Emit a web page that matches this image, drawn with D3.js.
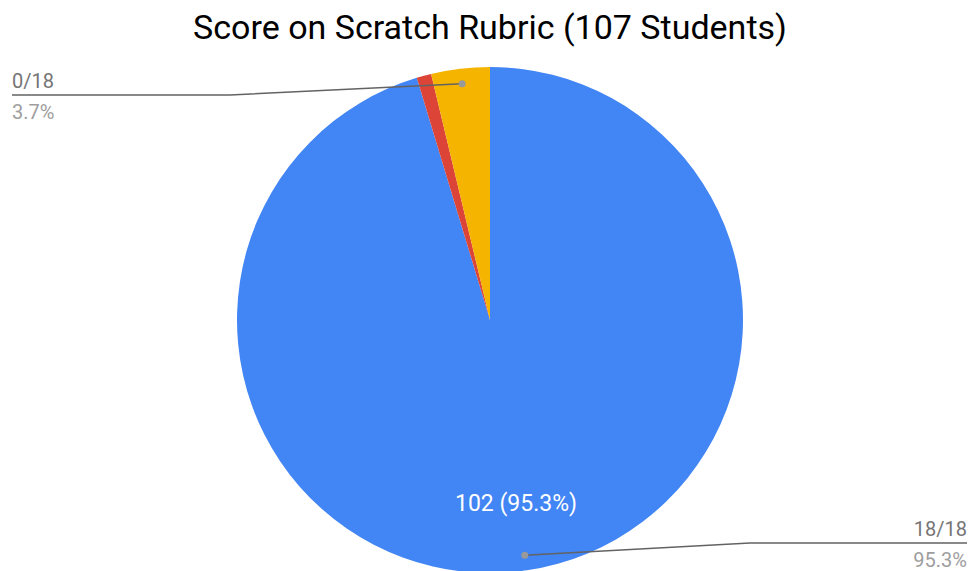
<!DOCTYPE html>
<html>
<head>
<meta charset="utf-8">
<script src="https://cdn.jsdelivr.net/npm/d3@7"></script>
<style>
body { margin: 0; background: #fff; }
text { font-family: Roboto, "Noto Sans", sans-serif; }
</style>
</head>
<body>
<div id="chart"></div>
<script>
var width = 971;
var height = 571;

var categories = ["18/18", "Other", "0/18"];
var counts = [102, 1, 4];
var colors = ["#4285f4", "#db4437", "#f4b400"];

var total = d3.sum(counts);
var cx = 490, cy = 320, radius = 253;

var svg = d3.select("#chart")
	.append("svg")
	.attr("width", width)
	.attr("height", height);

svg.append("text")
	.attr("x", 490)
	.attr("y", 39)
	.attr("text-anchor", "middle")
	.attr("font-size", 34)
	.attr("fill", "#000")
	.text("Score on Scratch Rubric (" + total + " Students)");

var data = categories.map(function(c, i) {
	return { name: c, value: counts[i], color: colors[i] };
});

var pie = d3.pie()
	.sort(null)
	.value(function(d) { return d.value; });

var arc = d3.arc()
	.innerRadius(0)
	.outerRadius(radius);

var g = svg.append("g")
	.attr("transform", "translate(" + cx + "," + cy + ")");

var arcs = pie(data);

g.selectAll(".slice")
	.data(arcs)
	.enter()
	.append("path")
	.attr("class", "slice")
	.attr("fill", function(d) { return d.data.color; })
	.attr("d", arc);

var pct = function(v) { return (v / total * 100).toFixed(1) + "%"; };

// label inside the big slice
var inner = d3.arc().innerRadius(radius * 0.73).outerRadius(radius * 0.73);
g.append("text")
	.attr("transform", function() {
		var c = inner.centroid(arcs[0]);
		return "translate(" + (c[0] - 1) + "," + (c[1] + 8) + ")";
	})
	.attr("text-anchor", "middle")
	.attr("font-size", 23)
	.attr("fill", "#fff")
	.text(counts[0] + " (" + pct(counts[0]) + ")");

// callouts: dot in slice, bent line out to the side
var dotArc = d3.arc().innerRadius(radius * 0.94).outerRadius(radius * 0.94);
var callouts = [
	{ i: 2, bendX: 230, lineY: 95, endX: 12, anchor: "start" },
	{ i: 0, bendX: 750, lineY: 543, endX: 967, anchor: "end" }
];

callouts.forEach(function(c) {
	var p = dotArc.centroid(arcs[c.i]);
	var px = cx + p[0], py = cy + p[1];
	svg.append("polyline")
		.attr("points", [[px, py], [c.bendX, c.lineY], [c.endX, c.lineY]].join(" "))
		.attr("fill", "none")
		.attr("stroke", "#636363")
		.attr("stroke-width", 1.5);
	svg.append("circle")
		.attr("cx", px)
		.attr("cy", py)
		.attr("r", 3.5)
		.attr("fill", "#999");
	svg.append("text")
		.attr("x", c.endX)
		.attr("y", c.lineY - 7)
		.attr("text-anchor", c.anchor)
		.attr("font-size", 20)
		.attr("fill", "#757575")
		.text(categories[c.i]);
	svg.append("text")
		.attr("x", c.endX)
		.attr("y", c.lineY + 24)
		.attr("text-anchor", c.anchor)
		.attr("font-size", 20)
		.attr("fill", "#9e9e9e")
		.text(pct(counts[c.i]));
});
</script>
</body>
</html>
